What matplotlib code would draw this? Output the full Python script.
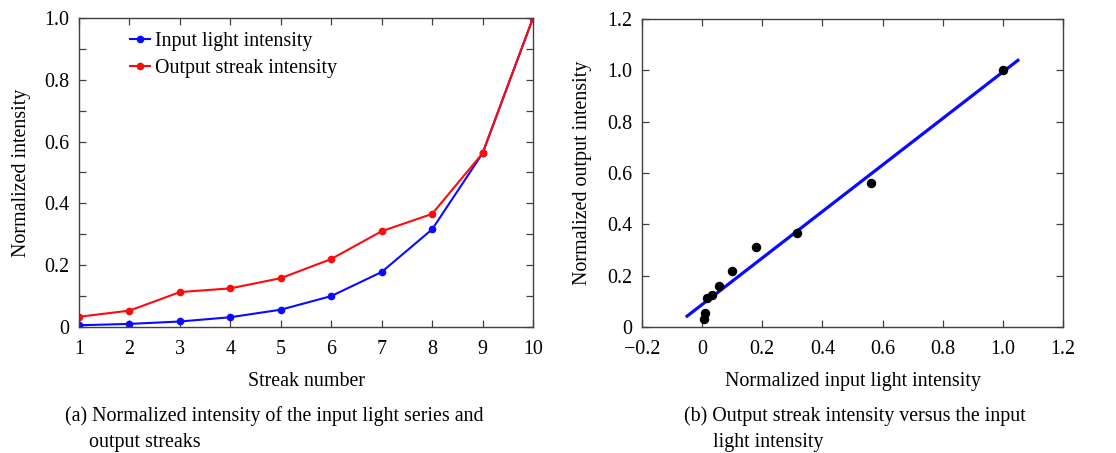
import numpy as np
import matplotlib
matplotlib.use("Agg")
import matplotlib.pyplot as plt
from matplotlib.ticker import FuncFormatter, MultipleLocator

plt.rcParams['font.family'] = ['Liberation Serif', 'DejaVu Serif']
plt.rcParams['axes.unicode_minus'] = True

streak_number = [1, 2, 3, 4, 5, 6, 7, 8, 9, 10]
input_intensity = [0.0056, 0.010, 0.0178, 0.0316, 0.056, 0.100, 0.178, 0.316, 0.562, 1.000]
output_intensity = [0.033, 0.053, 0.113, 0.125, 0.158, 0.220, 0.310, 0.366, 0.562, 1.000]
fit_x_range = [-0.05, 1.05]

FS = 14.4
SPINE = '#404040'
BLUE = '#0a0aff'
RED = '#ff0a0a'

fig = plt.figure(figsize=(11.16, 4.53), dpi=100)
W, H = 1116, 453

def px_axes(l, r, t, b):
    return fig.add_axes([l / W, 1 - b / H, (r - l) / W, (b - t) / H])

def fmt(v, pos):
    if abs(v) < 1e-9:
        return '0'
    return ('%.1f' % v).replace('-', '\u2212')

def style(ax):
    for s in ax.spines.values():
        s.set_color(SPINE)
        s.set_linewidth(1.0)
    ax.tick_params(direction='in', top=True, right=True, length=5, width=0.9,
                   color=SPINE, labelsize=FS)
    ax.tick_params(axis='x', pad=9)
    ax.tick_params(axis='y', pad=7)

# Left panel
ax1 = px_axes(79, 533, 18, 327)
ax1.plot(streak_number, input_intensity, '-o', color=BLUE, lw=1.5, ms=4.5,
         label='Input light intensity')
ax1.plot(streak_number, output_intensity, '-o', color=RED, lw=1.5, ms=4.5,
         label='Output streak intensity')
ax1.set_xlim(1, 10)
ax1.set_ylim(0, 1.0)
ax1.xaxis.set_major_locator(MultipleLocator(1))
ax1.yaxis.set_major_locator(MultipleLocator(0.1))
ax1.yaxis.set_major_formatter(FuncFormatter(
    lambda v, p: fmt(v, p) if round(v * 10) % 2 == 0 else ''))
style(ax1)
ax1.set_xlabel('Streak number', fontsize=FS, labelpad=9.5)
ax1.set_ylabel('Normalized intensity', fontsize=FS, labelpad=9.5)
ax1.legend(loc='upper left', bbox_to_anchor=(0.112, 0.955), frameon=False,
           fontsize=FS, handlelength=1.0, handletextpad=0.25, labelspacing=0.38,
           borderaxespad=0, borderpad=0)

# Right panel
ax2 = px_axes(642, 1063, 19, 327)
ax2.plot(input_intensity, output_intensity, 'o', color='black', ms=5.8, zorder=3)
slope, intercept = np.polyfit(input_intensity, output_intensity, 1)
fx = np.array(fit_x_range)
ax2.plot(fx, slope * fx + intercept, '-', color=BLUE, lw=2.3, zorder=2)
ax2.set_xlim(-0.2, 1.2)
ax2.set_ylim(0, 1.2)
ax2.xaxis.set_major_locator(MultipleLocator(0.2))
ax2.yaxis.set_major_locator(MultipleLocator(0.2))
ax2.xaxis.set_major_formatter(FuncFormatter(fmt))
ax2.yaxis.set_major_formatter(FuncFormatter(fmt))
style(ax2)
ax2.set_xlabel('Normalized input light intensity', fontsize=FS, labelpad=9.5)
ax2.set_ylabel('Normalized output intensity', fontsize=FS, labelpad=11)

# Captions
fig.text(65 / W, 1 - 416 / H, '(a) Normalized intensity of the input light series and',
         fontsize=FS, va='center', ha='left')
fig.text(89 / W, 1 - 443 / H, 'output streaks', fontsize=FS, va='center', ha='left')
fig.text(684 / W, 1 - 416 / H, '(b) Output streak intensity versus the input',
         fontsize=FS, va='center', ha='left')
fig.text(713 / W, 1 - 443 / H, 'light intensity', fontsize=FS, va='center', ha='left')

fig.savefig('out.png', dpi=100)
